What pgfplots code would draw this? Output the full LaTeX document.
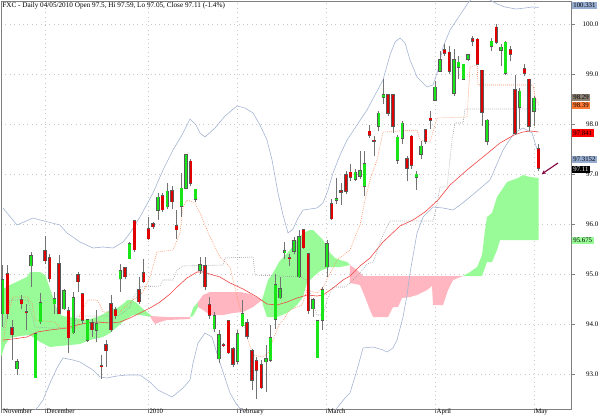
\documentclass[border=0pt]{standalone}
\usepackage{fontspec}
\setmainfont{Liberation Serif}
\usepackage{pgfplots}
\usepackage{pgfplotstable}
\pgfplotsset{compat=1.18}
\usetikzlibrary{arrows.meta}

\definecolor{upgreen}{RGB}{25,230,25}
\definecolor{downred}{RGB}{225,0,0}
\definecolor{outline}{RGB}{90,90,90}
\definecolor{wick}{RGB}{115,115,115}
\definecolor{cloudgreen}{RGB}{152,251,152}
\definecolor{cloudpink}{RGB}{255,182,193}
\definecolor{bband}{RGB}{165,180,212}
\definecolor{maline}{RGB}{240,70,70}
\definecolor{tenkan}{RGB}{255,140,90}
\definecolor{kijun}{RGB}{160,160,160}
\definecolor{gridc}{RGB}{200,200,200}
\definecolor{framec}{RGB}{128,128,128}
\definecolor{arrowc}{RGB}{128,0,64}
\definecolor{boxblue}{RGB}{150,172,208}
\definecolor{boxkijun}{RGB}{140,128,115}
\definecolor{boxtenkan}{RGB}{255,120,50}

% daily candles: day index, open, high, low, close
\pgfplotstableread{
i o h l c
0 94.21 95.18 93.95 94.89
1 95.01 95.18 94.10 94.21
2 93.93 94.08 93.28 93.79
3 93.11 93.31 92.98 93.25
4 94.49 94.58 94.31 94.41
5 94.24 94.41 93.88 94.23
6 95.17 95.45 94.75 95.36
7 92.93 93.81 92.93 93.81
8 94.05 94.63 94.01 94.43
9 95.47 95.77 95.20 95.27
10 95.33 95.41 94.85 94.91
11 94.41 94.65 94.21 94.51
12 95.21 95.38 94.20 94.21
13 94.31 94.70 94.28 94.66
14 94.26 94.35 93.43 93.73
15 93.83 94.65 93.80 94.53
16 94.99 95.05 94.65 94.85
17 94.60 94.62 94.00 94.08
18 93.68 94.11 93.65 94.08
19 94.03 94.10 93.75 93.89
20 93.88 94.28 93.65 94.01
21 93.16 93.38 92.91 93.15
22 93.58 93.68 93.15 93.47
23 94.41 94.58 93.85 93.89
24 94.29 94.35 94.10 94.17
25 94.91 95.21 94.65 95.06
26 95.13 95.15 94.90 94.95
27 95.31 95.65 95.30 95.60
28 96.06 96.06 95.45 95.49
29 94.68 94.95 94.40 94.45
30 95.03 95.31 94.83 94.85
31 95.91 96.15 95.69 95.71
32 96.01 96.05 95.90 95.95
33 96.28 96.61 96.09 96.53
34 96.56 96.61 96.25 96.29
35 96.35 96.81 96.30 96.65
36 96.66 96.75 96.30 96.45
37 95.96 96.28 95.71 95.89
38 96.36 97.01 96.15 96.71
39 96.71 97.40 96.70 97.38
40 97.25 97.30 96.75 96.81
41 96.49 96.70 96.45 96.69
42 95.08 95.35 95.00 95.18
43 95.16 95.35 94.68 94.75
44 94.38 94.55 94.10 94.18
45 93.91 94.25 93.85 94.16
46 93.31 93.88 93.23 93.78
47 93.58 93.62 93.55 93.57
48 94.06 94.06 93.40 93.43
49 93.51 93.55 93.15 93.20
50 93.26 93.88 93.20 93.81
51 93.97 94.48 93.95 94.20
52 94.03 94.10 93.70 93.76
53 93.47 93.50 92.68 92.88
54 93.27 93.35 92.51 93.08
55 93.18 93.28 92.70 92.73
56 93.25 93.58 92.65 93.30
57 93.28 93.98 93.25 93.73
58 94.10 95.01 93.91 94.78
59 94.53 94.95 94.50 94.71
60 95.43 95.65 95.30 95.47
61 95.33 95.41 95.16 95.31
62 95.46 95.75 95.40 95.66
63 94.95 95.88 94.92 95.75
64 95.89 95.90 95.50 95.53
65 95.41 95.41 94.20 94.27
66 94.31 94.52 94.15 94.49
67 93.33 94.07 93.33 94.07
68 94.08 94.75 93.88 94.69
69 95.15 95.68 94.95 95.61
70 96.41 96.49 96.09 96.11
71 96.47 96.91 96.40 96.50
72 96.66 96.81 96.38 96.63
73 96.98 97.05 96.60 96.65
74 97.03 97.20 96.85 96.93
75 96.89 97.10 96.85 97.03
76 96.96 97.45 96.90 97.06
77 96.76 97.45 96.55 97.20
78 97.85 97.98 97.72 97.78
79 97.67 97.75 97.35 97.66
80 97.96 98.25 97.85 98.21
81 98.53 98.90 98.40 98.58
82 98.58 98.60 98.15 98.21
83 98.58 98.60 97.82 97.95
84 97.28 97.78 97.20 97.73
85 97.71 98.05 97.60 98.01
86 97.30 97.35 96.85 97.11
87 97.75 97.78 97.10 97.17
88 96.93 97.05 96.68 96.99
89 97.40 97.65 97.30 97.55
90 97.88 97.88 97.60 97.65
91 98.11 98.25 97.90 98.07
92 98.48 98.85 98.45 98.73
93 99.06 99.45 99.05 99.28
94 99.48 99.60 99.35 99.41
95 99.43 99.55 99.00 99.06
96 98.61 99.50 98.55 99.28
97 99.13 99.35 98.90 99.23
98 98.89 99.20 98.88 99.19
99 99.29 99.40 99.25 99.38
100 99.70 99.76 99.55 99.66
101 99.69 99.72 99.18 99.20
102 99.07 99.07 97.95 98.23
103 97.65 98.10 97.57 98.07
104 99.55 99.72 99.45 99.65
105 99.93 100.00 99.60 99.63
106 99.47 99.60 99.15 99.53
107 99.01 99.65 98.98 99.63
108 99.48 99.55 99.25 99.40
109 98.68 98.98 97.78 97.81
110 98.33 98.72 97.90 98.65
111 99.10 99.20 98.95 99.01
112 98.89 98.90 97.85 97.95
113 98.25 98.56 97.95 98.51
114 97.50 97.59 97.05 97.11
}\candles

\begin{document}
\begin{tikzpicture}[x=1pt,y=1pt]
\begin{axis}[
  at={(1pt,7pt)}, anchor=south west,
  scale only axis, width=570pt, height=408pt,
  xmin=-0.362, xmax=120.91,
  ymin=92.30, ymax=100.46,
  clip mode=individual,
  axis line style={framec, line width=0.6pt},
  font=\fontsize{7}{8}\selectfont,
  /pgf/number format/assume math mode=true,
  xtick={-0.23,9,30.9,50,68.8,92,113},
  xticklabels={November,December,2010,February,March,April,May},
  xtick pos=bottom, tick align=outside,
  x tick style={framec, line width=0.5pt},
  major tick length=3.5pt,
  xticklabel style={anchor=base west, inner sep=0pt, xshift=1.4pt, yshift=-1.1pt,
    font=\fontsize{6.8}{7}\selectfont},
  ytick={93,94,95,96,97,98,99,100},
  ytick pos=right, yticklabel pos=right,
  y tick style={framec, line width=0.5pt},
  yticklabel style={anchor=east, inner sep=0pt, xshift=24pt,
    /pgf/number format/fixed, /pgf/number format/fixed zerofill,
    /pgf/number format/precision=1},
  xmajorgrids, ymajorgrids,
  grid style={gridc, line width=0.5pt, dash pattern=on 0.8pt off 3.6pt},
  candle/.style={only marks, mark=*, mark size=0pt, mark options={opacity=0},
    error bars/.cd, y dir=plus, y explicit, error mark=none},
]

% Ichimoku cloud
\addplot[fill=cloudgreen, draw=none] table {
-0.36 94.68
1.55 94.78
5.17 94.94
5.81 95.04
7.94 95.04
9.0 94.98
9.64 94.82
10.7 94.54
11.77 94.22
12.83 94.16
17.94 94.08
20.7 94.16
22.83 94.28
24.32 94.32
25.6 94.40
26.45 94.48
27.51 94.48
28.57 94.42
29.85 94.30
31.98 94.14
29.21 94.18
27.72 94.18
26.02 94.08
24.32 93.94
22.83 93.82
21.34 93.74
18.57 93.68
16.45 93.60
12.19 93.56
10.06 93.54
7.94 93.64
5.81 93.78
3.68 93.76
1.55 93.72
0.49 93.58
-0.36 93.34
};
\addplot[fill=cloudpink, draw=none] table {
31.34 94.16
34.96 94.14
39.85 94.14
39.85 94.10
34.96 94.08
33.47 94.04
32.4 94.00
31.77 94.08
};
\addplot[fill=cloudgreen, draw=none] table {
39.85 94.14
40.49 94.32
41.55 94.44
41.55 94.34
40.49 94.16
};
\addplot[fill=cloudpink, draw=none] table {
41.55 94.44
42.62 94.58
44.11 94.64
50.49 94.64
52.62 94.60
54.11 94.52
55.17 94.48
53.26 94.34
51.13 94.24
49.0 94.22
46.87 94.18
44.11 94.18
42.62 94.28
41.55 94.34
};
\addplot[fill=cloudgreen, draw=none] table {
55.17 94.48
55.81 94.68
56.45 94.88
57.51 95.02
58.79 95.24
61.13 95.48
62.62 95.68
63.89 95.82
65.38 95.88
66.02 95.88
67.09 95.78
68.15 95.68
69.0 95.54
69.64 95.42
70.7 95.32
71.77 95.28
73.26 95.24
73.89 95.18
71.77 95.14
69.64 95.14
67.51 95.06
66.02 94.94
64.74 94.82
63.89 94.54
62.62 94.38
60.49 94.22
58.36 94.14
56.23 94.14
55.38 94.38
};
\addplot[fill=cloudpink, draw=none] table {
73.89 95.18
75.38 95.08
76.66 94.96
97.94 94.96
95.81 94.88
94.74 94.68
93.68 94.38
91.55 94.38
91.34 94.76
90.28 94.68
88.15 94.58
86.66 94.54
84.96 94.52
84.11 94.34
83.04 94.34
81.98 94.14
78.79 94.14
78.15 94.28
77.09 94.54
76.02 94.78
73.89 94.82
};
\addplot[fill=cloudgreen, draw=none] table {
97.94 94.96
99.43 95.04
100.94 95.14
101.98 95.38
102.62 95.88
103.04 96.14
104.11 96.22
105.17 96.54
107.3 96.84
109.64 96.92
110.7 96.98
112.19 96.94
114.04 96.92
114.04 95.68
105.81 95.68
105.17 95.48
104.11 95.24
103.04 95.24
101.98 94.96
};

% Bollinger bands
\addplot[bband, line width=0.6pt] table {
0.06 96.32
3.04 95.98
6.45 96.12
7.94 96.08
12.19 95.98
13.68 95.82
16.45 95.64
19.21 95.52
21.34 95.54
23.47 95.52
25.6 95.64
27.09 95.82
29.21 96.14
31.98 96.62
34.11 97.08
36.23 97.48
38.15 97.78
39.85 98.10
41.13 97.98
41.98 97.82
43.04 97.74
45.17 97.92
47.3 98.16
49.85 98.36
51.55 98.32
53.26 98.22
54.74 97.98
56.23 97.68
57.3 97.28
58.57 96.62
59.64 96.18
60.7 95.82
61.77 95.90
62.83 96.12
63.89 96.28
66.87 96.32
68.15 96.42
69.21 96.68
70.28 97.02
71.77 97.38
73.26 97.68
77.51 98.28
80.91 98.88
82.4 99.38
83.47 99.64
84.53 99.72
85.6 99.62
86.66 99.28
88.15 98.94
90.28 98.74
91.55 98.78
92.62 99.08
93.68 99.54
95.17 99.88
97.3 100.18
99.0 100.42
100.49 100.58
101.98 100.60
103.68 100.48
105.17 100.40
106.87 100.34
109.21 100.30
111.13 100.32
112.62 100.34
114.04 100.33
};
\addplot[bband, line width=0.6pt] table {
0.06 91.88
3.68 91.98
6.45 92.24
7.51 92.34
8.57 92.48
10.06 92.82
11.55 93.12
12.83 93.32
14.96 93.28
16.45 93.24
19.21 93.08
20.7 92.94
22.19 92.92
24.32 92.96
26.45 92.98
29.21 92.98
31.34 92.84
33.04 92.68
36.02 92.54
38.36 92.72
39.85 92.88
40.49 93.22
41.55 93.62
43.04 93.82
44.53 93.74
45.81 93.34
47.3 92.92
48.36 92.62
49.85 92.38
52.62 92.08
56.87 91.88
61.13 91.88
65.38 91.98
69.64 92.18
71.13 92.32
72.83 92.52
73.89 92.62
75.38 93.08
76.66 93.52
78.79 93.54
80.91 93.48
81.77 93.44
83.04 93.52
83.89 93.68
85.17 94.14
86.02 94.58
86.66 95.02
88.15 95.82
89.43 96.14
91.55 96.34
93.68 96.32
95.81 96.28
97.3 96.38
99.43 96.54
103.68 96.88
106.45 97.48
108.79 97.82
110.7 97.92
112.62 97.82
113.26 97.62
114.04 97.38
};

% moving average
\addplot[maline, line width=0.6pt] table {
0.06 93.68
2.19 93.70
5.17 93.74
7.3 93.84
10.06 93.88
13.68 93.92
15.81 93.98
17.94 94.02
20.06 94.04
22.83 94.02
24.96 94.04
27.09 94.12
29.21 94.22
31.34 94.32
33.47 94.44
35.6 94.60
37.09 94.74
39.21 94.92
41.34 95.04
42.62 95.04
44.74 94.98
46.23 94.94
48.36 94.82
51.13 94.70
54.11 94.54
56.23 94.40
58.36 94.38
60.49 94.44
62.62 94.52
64.74 94.58
66.87 94.56
68.15 94.58
70.28 94.72
72.4 94.88
73.89 94.96
76.02 95.16
78.15 95.32
80.91 95.64
84.53 95.96
87.3 96.08
89.85 96.24
92.62 96.48
95.17 96.78
98.79 97.08
102.19 97.34
105.81 97.62
108.79 97.78
110.7 97.84
112.19 97.86
114.04 97.84
};

% conversion line
\addplot[tenkan, line width=0.6pt, dash pattern=on 0.8pt off 1.2pt] table {
0.06 93.64
1.13 94.22
2.19 94.54
5.17 94.54
6.23 94.42
6.87 94.08
11.13 94.04
12.19 93.92
15.81 93.92
16.45 94.20
18.15 94.48
20.06 94.48
20.7 94.38
21.34 94.24
24.96 94.24
27.72 94.48
29.85 94.64
31.34 94.94
32.83 95.44
36.23 95.48
37.72 95.82
38.36 96.34
39.21 96.48
40.91 96.42
41.98 96.22
43.04 95.98
44.11 95.74
46.23 95.34
48.36 95.14
49.0 94.88
50.06 94.48
51.13 94.08
52.19 93.68
53.26 93.38
55.38 93.34
56.45 93.42
57.51 93.68
58.57 93.94
61.13 94.28
63.68 94.38
64.74 94.68
66.87 94.62
68.15 94.74
70.06 95.08
71.13 95.28
73.89 95.48
74.96 95.74
76.02 95.98
77.09 96.48
78.15 96.88
79.64 97.28
80.91 97.84
88.15 97.88
88.79 97.68
90.91 97.64
92.4 98.12
98.79 98.14
99.43 99.14
100.94 99.18
101.13 98.78
112.83 98.78
113.26 98.54
114.04 98.39
};

% base line
\addplot[kijun, line width=0.6pt, dash pattern=on 0.8pt off 1.2pt] table {
0.06 93.88
1.55 94.48
5.38 94.48
6.87 93.94
10.06 93.92
14.96 93.92
15.81 94.16
23.47 94.16
24.96 94.18
27.09 94.34
27.72 94.52
29.21 94.74
33.47 94.76
34.11 94.88
36.23 94.88
37.09 95.08
38.36 95.16
46.87 95.18
47.3 95.32
53.26 95.34
53.68 94.98
63.26 94.94
64.74 94.88
65.81 94.48
66.87 94.18
68.15 94.18
69.21 94.54
70.28 94.74
72.83 94.74
73.89 94.82
76.02 95.02
77.51 95.20
78.79 95.24
80.28 95.62
80.91 95.78
82.4 96.06
91.55 96.06
92.4 96.38
93.04 96.74
94.53 96.74
95.6 97.68
96.23 98.02
97.94 98.02
98.36 98.30
114.04 98.30
};

% candles: wicks, body outlines, up bodies, down bodies
\addplot[candle, error bar style={wick, line width=0.6pt}]
  table[x=i, y=l, y error plus expr=\thisrow{h}-\thisrow{l}] \candles;
\addplot[candle, error bar style={outline, line width=3.4pt}]
  table[x=i, y expr={min(\thisrow{o},\thisrow{c})-0.012},
        y error plus expr={abs(\thisrow{c}-\thisrow{o})+0.024}] \candles;
\addplot[candle, error bar style={upgreen, line width=2.4pt}]
  table[x=i, y=o, y error plus expr={max(\thisrow{c}-\thisrow{o},0)}] \candles;
\addplot[candle, error bar style={downred, line width=2.4pt}]
  table[x=i, y=c, y error plus expr={max(\thisrow{o}-\thisrow{c},0)}] \candles;

% title and annotations
\node[anchor=base west, inner sep=0pt, font=\fontsize{7.2}{8}\selectfont]
  at (axis cs:-0.1,100.334)
  {FXC - Daily 04/05/2010 Open 97.5, Hi 97.59, Lo 97.05, Close 97.11 (-1.4\%)};
\draw[arrowc, line width=1.1pt, -{Stealth[length=4pt,width=4pt]}]
  (axis cs:118.15,97.22) -- (axis cs:114.7,97.0);

\tikzset{pl/.style={anchor=west, inner xsep=1.6pt, inner ysep=0pt,
  minimum height=7.6pt, text height=4.6pt, text depth=0pt,
  font=\fontsize{6.8}{7}\selectfont, xshift=0.6pt}}
\node[pl, fill=boxblue] at (axis cs:120.91,100.37) {100.331};
\node[pl, fill=boxkijun] at (axis cs:120.91,98.53) {98.29};
\node[pl, fill=boxtenkan] at (axis cs:120.91,98.37) {98.39};
\node[pl, fill=red] at (axis cs:120.91,97.82) {97.841};
\node[pl, fill=boxblue] at (axis cs:120.91,97.29) {97.3152};
\node[pl, fill=black, text=white] at (axis cs:120.91,97.09) {97.11};
\node[pl, fill=cloudgreen] at (axis cs:120.91,95.67) {95.675};
\end{axis}
\pgfresetboundingbox
\path[use as bounding box] (0,0) rectangle (600pt,416pt);
\end{tikzpicture}
\end{document}
